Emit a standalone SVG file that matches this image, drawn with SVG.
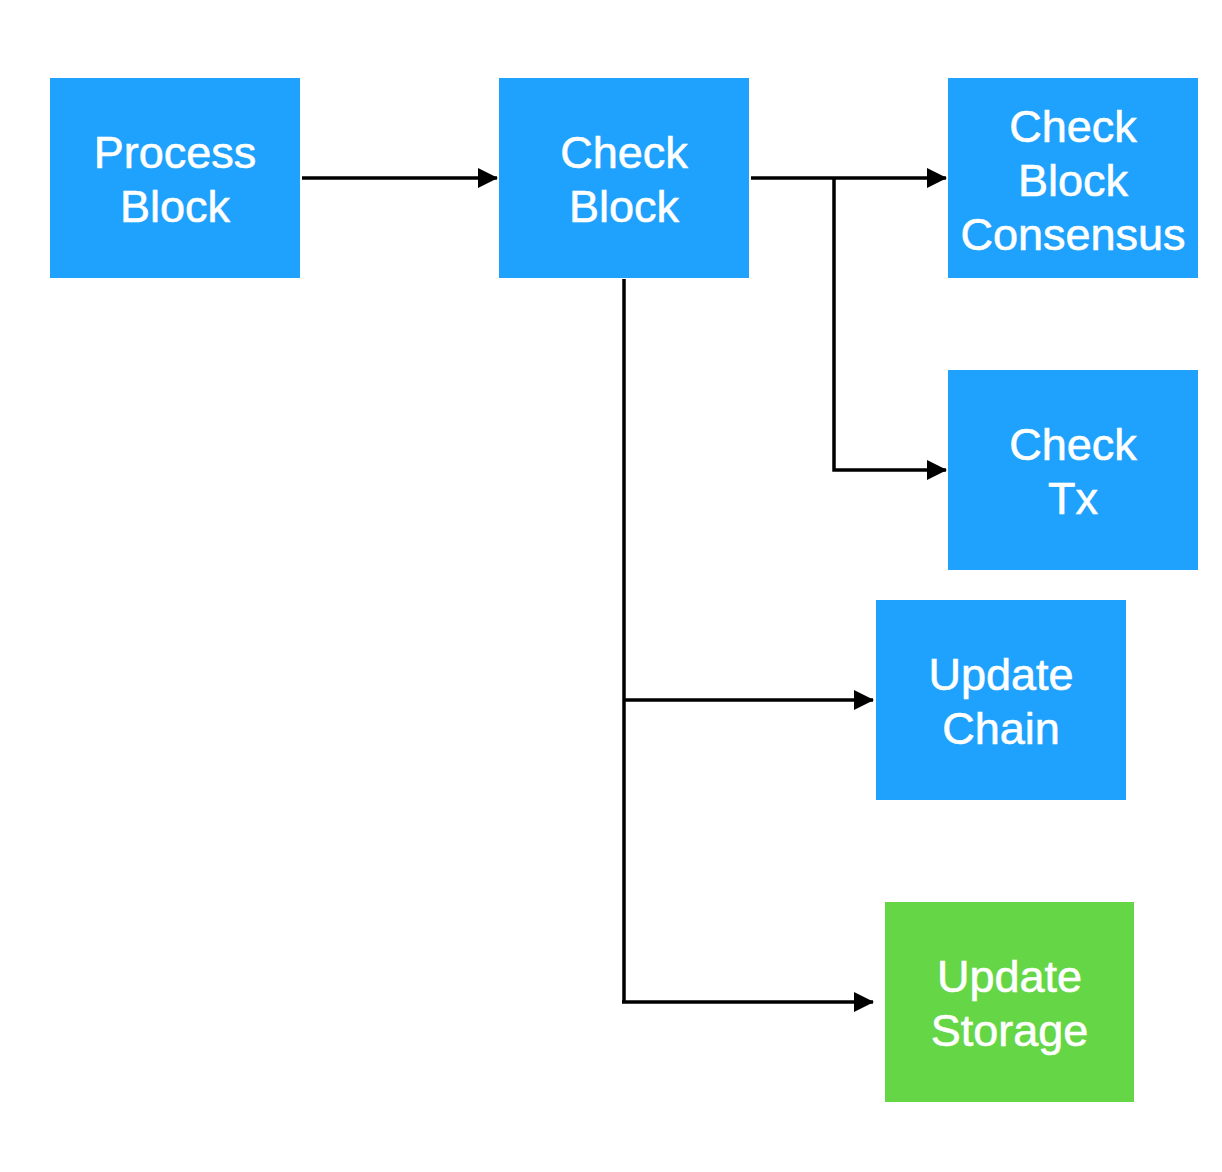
<svg xmlns="http://www.w3.org/2000/svg" width="1222" height="1172" viewBox="0 0 1222 1172">
<defs>
<style>
.box{fill:#1EA2FD}
.green{fill:#65D646}
.lbl{font-family:"Liberation Sans",Arial,sans-serif;font-size:45px;fill:#fff;stroke:#fff;stroke-width:0.6;text-anchor:middle}
.wire{stroke:#000;stroke-width:3.5;fill:none}
</style>
<marker id="arr" viewBox="0 0 20 20" refX="19" refY="10" markerWidth="20" markerHeight="20" markerUnits="userSpaceOnUse" orient="auto">
<path d="M0,0 L20,10 L0,20 Z" fill="#000"/>
</marker>
</defs>
<rect width="1222" height="1172" fill="#fff"/>
<g id="connectors">
<path class="wire" d="M302,178 H497" marker-end="url(#arr)"/>
<path class="wire" d="M751,178 H946" marker-end="url(#arr)"/>
<path class="wire" d="M834,178 V470 H946" marker-end="url(#arr)"/>
<path class="wire" d="M624,279 V1002"/>
<path class="wire" d="M624,700 H873" marker-end="url(#arr)"/>
<path class="wire" d="M622,1002 H873" marker-end="url(#arr)"/>
</g>
<g id="process-block">
<rect class="box" x="50" y="78" width="250" height="200"/>
<text class="lbl" x="175" y="168">Process</text>
<text class="lbl" x="175" y="222">Block</text>
</g>
<g id="check-block">
<rect class="box" x="499" y="78" width="250" height="200"/>
<text class="lbl" x="624" y="168">Check</text>
<text class="lbl" x="624" y="222">Block</text>
</g>
<g id="check-block-consensus">
<rect class="box" x="948" y="78" width="250" height="200"/>
<text class="lbl" x="1073" y="142">Check</text>
<text class="lbl" x="1073" y="196">Block</text>
<text class="lbl" x="1073" y="250">Consensus</text>
</g>
<g id="check-tx">
<rect class="box" x="948" y="370" width="250" height="200"/>
<text class="lbl" x="1073" y="460">Check</text>
<text class="lbl" x="1073" y="514">Tx</text>
</g>
<g id="update-chain">
<rect class="box" x="876" y="600" width="250" height="200"/>
<text class="lbl" x="1001" y="690">Update</text>
<text class="lbl" x="1001" y="744">Chain</text>
</g>
<g id="update-storage">
<rect class="green" x="885" y="902" width="249" height="200"/>
<text class="lbl" x="1009.5" y="992">Update</text>
<text class="lbl" x="1009.5" y="1046">Storage</text>
</g>
</svg>
